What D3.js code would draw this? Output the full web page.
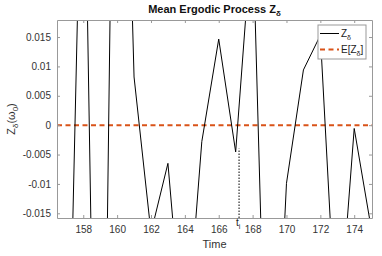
<!DOCTYPE html>
<html>
<head>
<meta charset="utf-8">
<script src="https://cdn.jsdelivr.net/npm/d3@7"></script>
<style>
  body { margin: 0; background: #fff; }
  text { font-family: "Liberation Sans", Arial, sans-serif; }
</style>
</head>
<body>
<div id="chart"></div>
<script>
// sample times and the Z_delta values
var times = [156, 157, 158, 159, 160, 161, 162, 163, 164, 165, 166, 167, 168, 169, 170, 171, 172, 173, 174, 175];
var zValues = [-0.04, -0.065, 0.062, -0.112, 0.112, 0.0082, -0.0183, -0.0065, -0.040, -0.0028,
               0.01465, -0.00455, 0.034, -0.07, -0.0099, 0.0094, 0.0153, -0.0385, -0.00056, -0.0175];
var meanValue = 0;          // E[Z_delta]
var tI = 167.2;             // t_i marker
var tITop = -0.004;         // where the dotted marker stops
var xTicks = [158, 160, 162, 164, 166, 168, 170, 172, 174];
var yTicks = [-0.015, -0.01, -0.005, 0, 0.005, 0.01, 0.015];
var xLimits = [156.45, 175.05];
var yLimits = [-0.0158, 0.0179];

var margin = { top: 20, right: 10, bottom: 38, left: 57 };
var width = 382 - margin.left - margin.right;
var height = 256 - margin.top - margin.bottom;

var svg = d3.select('#chart')
    .append('svg')
    .attr('width', 382)
    .attr('height', 256);

var g = svg.append('g')
    .attr('transform', 'translate(' + margin.left + ',' + margin.top + ')');

var x = d3.scaleLinear().domain(xLimits).range([0, width]);
var y = d3.scaleLinear().domain(yLimits).range([height, 0]);

g.append('clipPath').attr('id', 'clip')
    .append('rect').attr('width', width).attr('height', height);

var data = times.map(function(t, i) { return { t: t, z: zValues[i] }; });

var line = d3.line()
    .x(function(d) { return x(d.t); })
    .y(function(d) { return y(d.z); });

var plot = g.append('g').attr('clip-path', 'url(#clip)');

// mean line
plot.append('line')
    .attr('x1', 0).attr('x2', width)
    .attr('y1', y(meanValue)).attr('y2', y(meanValue))
    .attr('stroke', '#D95319')
    .attr('stroke-width', 2)
    .attr('stroke-dasharray', '5,3.5');

plot.append('path')
    .datum(data)
    .attr('d', line)
    .attr('fill', 'none')
    .attr('stroke', '#000')
    .attr('stroke-width', 1);

// t_i marker
plot.append('line')
    .attr('x1', x(tI)).attr('x2', x(tI))
    .attr('y1', height).attr('y2', y(tITop))
    .attr('stroke', '#000')
    .attr('stroke-width', 1)
    .attr('stroke-dasharray', '1.5,1.5');

// box with inward ticks (matlab style)
var fmt = function(v) { return String(+v.toFixed(3)); };
var axisColor = '#999';

var xAxis = g.append('g')
    .attr('transform', 'translate(0,' + height + ')')
    .call(d3.axisBottom(x).tickValues(xTicks).tickSizeInner(-3).tickSizeOuter(0).tickPadding(8));
var xTop = g.append('g')
    .call(d3.axisTop(x).tickValues(xTicks).tickSizeInner(-3).tickSizeOuter(0).tickFormat(''));
var yAxis = g.append('g')
    .call(d3.axisLeft(y).tickValues(yTicks).tickSizeInner(-3).tickSizeOuter(0).tickPadding(6).tickFormat(fmt));
var yRight = g.append('g')
    .attr('transform', 'translate(' + width + ',0)')
    .call(d3.axisRight(y).tickValues(yTicks).tickSizeInner(-3).tickSizeOuter(0).tickFormat(''));

[xAxis, xTop, yAxis, yRight].forEach(function(a) {
    a.select('.domain').attr('stroke', axisColor);
    a.selectAll('.tick line').attr('stroke', axisColor);
    a.selectAll('text')
        .attr('fill', '#333')
        .style('font-size', '10px')
        .style('font-family', '"Liberation Sans", Arial, sans-serif');
});

// t_i label
var tLabel = g.append('text')
    .attr('x', x(tI) - 3)
    .attr('y', height + 8)
    .attr('fill', '#222')
    .style('font-size', '10px');
tLabel.append('tspan').text('t');
tLabel.append('tspan').attr('dy', 3).style('font-size', '7px').text('i');

// title
var title = svg.append('text')
    .attr('x', margin.left + width / 2)
    .attr('y', 13)
    .attr('text-anchor', 'middle')
    .attr('fill', '#111')
    .style('font-size', '11px')
    .style('font-weight', 'bold');
title.append('tspan').text('Mean Ergodic Process Z');
title.append('tspan').attr('dy', 3).style('font-size', '8px').text('δ');

// x label
svg.append('text')
    .attr('x', margin.left + width / 2)
    .attr('y', 248)
    .attr('text-anchor', 'middle')
    .attr('fill', '#333')
    .style('font-size', '11px')
    .text('Time');

// y label
var yl = svg.append('text')
    .attr('transform', 'translate(15,' + (margin.top + height / 2) + ') rotate(-90)')
    .attr('text-anchor', 'middle')
    .attr('fill', '#333')
    .style('font-size', '11px');
yl.append('tspan').text('Z');
yl.append('tspan').attr('dy', 3).style('font-size', '8px').text('δ');
yl.append('tspan').attr('dy', -3).text('(ω');
yl.append('tspan').attr('dy', 3).style('font-size', '8px').text('0');
yl.append('tspan').attr('dy', -3).text(')');

// legend
var legend = g.append('g')
    .attr('transform', 'translate(' + (318 - margin.left) + ',' + (25 - margin.top) + ')');
legend.append('rect')
    .attr('width', 48).attr('height', 34)
    .attr('fill', '#fff')
    .attr('stroke', axisColor);

var legendItems = [
    { name: 'Z', color: '#000', dash: null, width: 1 },
    { name: 'E[Z', color: '#D95319', dash: '5,3.5', width: 2 }
];
legendItems.forEach(function(d, i) {
    var yy = 8.5 + i * 16;
    legend.append('line')
        .attr('x1', 2).attr('x2', 21)
        .attr('y1', yy).attr('y2', yy)
        .attr('stroke', d.color)
        .attr('stroke-width', d.width)
        .attr('stroke-dasharray', d.dash);
    var t = legend.append('text')
        .attr('x', 23).attr('y', yy + 3.5)
        .attr('fill', '#222')
        .style('font-size', '10px');
    t.append('tspan').text(d.name);
    t.append('tspan').attr('dy', 3).style('font-size', '7px').text('δ');
    if (i == 1) t.append('tspan').attr('dy', -3).text(']');
});
</script>
</body>
</html>
